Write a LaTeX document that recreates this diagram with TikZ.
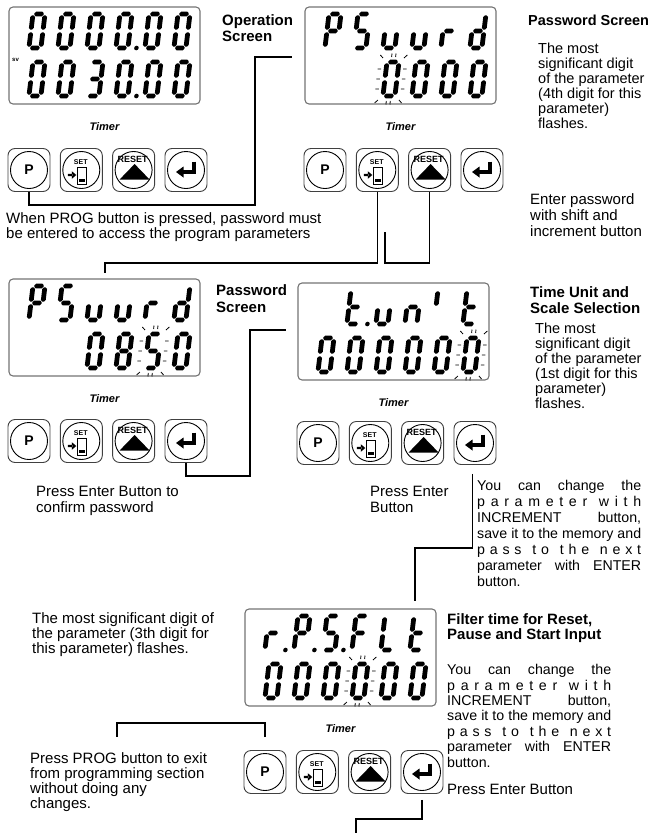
\documentclass[tikz,border=0pt]{standalone}
\usepackage{fontspec}
\setmainfont{Liberation Sans}

% seven segment cells: origin at the top left corner, y downwards
\tikzset{
  hbar/.style={insert path={(1.4,#1-0.8)--(3,#1-2.4)--(9,#1-2.4)--(10.6,#1-0.8)--(10.6,#1+0.8)--(9,#1+2.4)--(3,#1+2.4)--(1.4,#1+0.8)--cycle}},
  vbar/.style 2 args={insert path={(#1-0.8,#2+1.4)--(#1+0.8,#2+1.4)--(#1+2.4,#2+3)--(#1+2.4,#2+14)--(#1+0.8,#2+15.6)--(#1-0.8,#2+15.6)--(#1-2.4,#2+14)--(#1-2.4,#2+3)--cycle}},
  seg a/.style={hbar=0},
  seg g/.style={hbar=17},
  seg d/.style={hbar=34},
  seg f/.style={vbar={0}{0}},
  seg e/.style={vbar={0}{17}},
  seg b/.style={vbar={12}{0}},
  seg c/.style={vbar={12}{17}},
  seg p/.style={insert path={(20.5,34) circle (2.3)}},
  flash/.style={insert path={(4,-5)--(4,-8.5) (8,-5)--(8,-8.5)
      (4,39)--(4,42.5) (8,39)--(8,42.5)
      (-5,7)--(-8.5,7) (-5,17)--(-8.5,17) (-5,27)--(-8.5,27)
      (17,7)--(20.5,7) (17,17)--(20.5,17) (17,27)--(20.5,27)
      (-4.5,-4)--(-7.5,-7) (16.5,-4)--(19.5,-7)
      (-4.5,38)--(-7.5,41) (16.5,38)--(19.5,41)}}
}
\def\dZero{a,b,c,d,e,f}
\def\dThree{a,b,c,d,g}
\def\dFive{a,c,d,f,g}
\def\dEight{a,b,c,d,e,f,g}
\def\dP{a,b,e,f,g}
\def\dS{a,c,d,f,g}
\def\du{c,d,e}
\def\dr{e,g}
\def\dd{b,c,d,e,g}
\def\dt{d,e,f,g}
\def\dn{c,e,g}
\def\di{f}
\def\dF{a,e,f,g}
\def\dL{d,e,f}
\def\dDot{p}

\newcommand{\lcd}[3]{%
  \begin{scope}[shift={(#1,#2)},xslant=0.12]
    \edef\seglist{#3}%
    \foreach \s in \seglist {\fill (0,0) [seg \s];}
  \end{scope}}
\newcommand{\lcdrow}[3]{\foreach \k/\ch in {#3} {\lcd{#1+29*\k}{#2}{\ch}}}
\newcommand{\lcdflash}[2]{%
  \begin{scope}[shift={(#1,#2)},xslant=0.12]
    \draw[line width=0.8pt] (0,0) [flash];
  \end{scope}}
\newcommand{\jline}[1]{\makebox[164pt][s]{#1}}
\newcommand{\changetext}{\jline{You can change the}\\
  \jline{p a r a m e t e r\hspace{6pt} w i t h}\\
  \jline{INCREMENT button,}\\
  \jline{save it to the memory and}\\
  \jline{p a s s\hspace{6pt} t o\hspace{6pt} t h e\hspace{6pt} n e x t}\\
  \jline{parameter with ENTER}\\
  button.}

\begin{document}
\begin{tikzpicture}[x=1pt,y=-1pt,
  wire/.style={line width=1.3pt},
  lcdbox/.style={draw=black!55,line width=1.1pt,rounded corners=4pt},
  btn/.style={draw=black!75,line width=0.9pt,rounded corners=7pt,minimum width=42pt,minimum height=43pt,inner sep=0pt},
  ring/.style={line width=0.9pt},
  txt/.style={anchor=north west,inner sep=0pt,align=left,font=\fontsize{15}{15.5}\selectfont},
  head/.style={txt,font=\bfseries\fontsize{15}{16.5}\selectfont},
  timer/.style={anchor=base,inner sep=0pt,font=\bfseries\itshape\fontsize{11}{11}\selectfont}]
\useasboundingbox (0,0) rectangle (652,833);

%screens and keys
\foreach \n/\lx/\ty/\by in {1/9/7/170,2/305/7/170,3/9/279/441,4/298/283/443,5/245/609/772}{
  \draw[lcdbox] (\lx,\ty) rectangle ++(191,97);
  \node[timer] at (\lx+95.5,\ty+123) {Timer};
  \node[btn] (P\n) at (\lx+20,\by) {};
  \node[btn] (S\n) at (\lx+72.3,\by) {};
  \node[btn] (R\n) at (\lx+124.6,\by) {};
  \node[btn] (E\n) at (\lx+177,\by) {};
  \foreach \kk in {P,S,R,E} \draw[ring] (\kk\n.center) circle (18.5);
  \node[font=\bfseries\fontsize{14}{14}\selectfont] at (P\n) {P};
  \begin{scope}[shift={(S\n.center)}]
    \node[inner sep=0pt,font=\bfseries\fontsize{7}{7}\selectfont] at (-0.5,-7.5) {SET};
    \draw[line width=0.8pt] (-4,-3) rectangle (5.5,14.5);
    \fill (-2,8.5) rectangle (3.5,12);
    \fill (-13.5,3.8) rectangle (-9,6.2) (-9.5,1.2) -- (-5,5) -- (-9.5,8.8) -- cycle;
  \end{scope}
  \begin{scope}[shift={(R\n.center)}]
    \node[inner sep=0pt,font=\bfseries\fontsize{9}{9}\selectfont] at (-1,-11) {RESET};
    \fill (1,-6) -- (16,9.5) -- (-14,9.5) -- cycle;
  \end{scope}
  \begin{scope}[shift={(E\n.center)}]
    \draw[line width=4pt] (7.5,-8.5) |- (-3,2);
    \fill (-10,2) -- (-2.5,-3.5) -- (-2.5,7.5) -- cycle;
  \end{scope}
}

%1 operation screen
\node[inner sep=0pt,anchor=north west,font=\bfseries\fontsize{6}{6}\selectfont] (sv) at (12,58.5) {sv};
\lcdrow{33}{14}{0/\dZero,1/\dZero,2/\dZero,3/\dZero,3/\dDot,4/\dZero,5/\dZero}
\lcdrow{33}{62}{0/\dZero,1/\dZero,2/\dThree,3/\dZero,3/\dDot,4/\dZero,5/\dZero}
\node[head] (opscr) at (222,14) {Operation\\Screen};
\node[txt] (prognote) at (6,212) {When PROG button is pressed, password must\\be entered to access the program parameters};

%2 password screen
\lcdrow{329}{14}{0/\dP,1/\dS,2/\du,3/\du,4/\dr,5/\dd}
\lcdrow{329}{62}{2/\dZero,3/\dZero,4/\dZero,5/\dZero}
\lcdflash{387}{62}
\node[head,font=\bfseries\fontsize{14.5}{16}\selectfont] (pwscr) at (528,14.4) {Password Screen};
\node[txt,font=\fontsize{14.5}{15}\selectfont] (pwnote) at (538,42.4) {The most\\significant digit\\of the parameter\\(4th digit for this\\parameter)\\flashes.};
\node[txt,font=\fontsize{15}{16}\selectfont] (shiftnote) at (530,193) {Enter password\\with shift and\\increment button};

%3 password entered
\lcdrow{33}{286}{0/\dP,1/\dS,2/\du,3/\du,4/\dr,5/\dd}
\lcdrow{33}{334}{2/\dZero,3/\dEight,4/\dFive,5/\dZero}
\lcdflash{149}{334}
\node[head,font=\bfseries\fontsize{15}{17}\selectfont] (pwscr2) at (216,284) {Password\\Screen};
\node[txt,font=\fontsize{15}{16}\selectfont] (confnote) at (36,486) {Press Enter Button to\\confirm password};

%4 time unit
\lcdrow{322}{290}{1/\dt,1/\dDot,2/\du,3/\dn,4/\di,5/\dt}
\lcdrow{322}{338}{0/\dZero,1/\dZero,2/\dZero,3/\dZero,4/\dZero,5/\dZero}
\lcdflash{467}{338}
\node[head,font=\bfseries\fontsize{15}{16}\selectfont] (tuscr) at (530,286) {Time Unit and\\Scale Selection};
\node[txt,font=\fontsize{14.5}{15}\selectfont] (tunote) at (535,322.4) {The most\\significant digit\\of the parameter\\(1st digit for this\\parameter)\\flashes.};
\node[txt,font=\fontsize{15}{16}\selectfont] (enter4) at (370,486) {Press Enter\\Button};
\node[txt,font=\fontsize{14.2}{16}\selectfont] (chg1) at (477,480) {\changetext};

%5 filter time
\lcdrow{269}{616}{0/\dr,0/\dDot,1/\dP,1/\dDot,2/\dS,2/\dDot,3/\dF,4/\dL,5/\dt}
\lcdrow{269}{664}{0/\dZero,1/\dZero,2/\dZero,3/\dZero,4/\dZero,5/\dZero}
\lcdflash{356}{664}
\node[txt,font=\fontsize{15}{15}\selectfont] (flnote) at (32,612) {The most significant digit of\\the parameter (3th digit for\\this parameter) flashes.};
\node[head,font=\bfseries\fontsize{15}{15}\selectfont] (fltscr) at (447,613) {Filter time for Reset,\\Pause and Start Input};
\node[txt,font=\fontsize{14.2}{15.5}\selectfont] (chg2) at (447,664) {\changetext};
\node[txt] (enter5) at (447,784) {Press Enter Button};
\node[txt,font=\fontsize{15}{15.3}\selectfont] (exitnote) at (30,752) {Press PROG button to exit\\from programming section\\without doing any\\changes.};

%paths
\coordinate (a1) at (292,57);
\coordinate (b1) at (105,273);
\coordinate (c1) at (385,232);
\coordinate (d1) at (286,330);
\coordinate (e1) at (415,601);
\coordinate (f1) at (117,737);
\coordinate (g1) at (356,833);
\draw[wire] (P1.south) |- (255,205) |- (a1);
\draw[wire] (S2.south) |- (105,263) -- (b1);
\draw[wire] (R2.south) |- (385,263) -- (c1);
\draw[wire] (E3.south) |- (250,476) |- (d1);
\draw[wire,shorten <=9pt] ([xshift=-2.5pt]E4.south) |- (415,548) -- (e1);
\draw[wire,shorten <=13pt] (P5.north) |- (117,723) -- (f1);
\draw[wire,shorten <=6pt] (E5.south) |- (356,819) -- (g1);
\end{tikzpicture}
\end{document}
